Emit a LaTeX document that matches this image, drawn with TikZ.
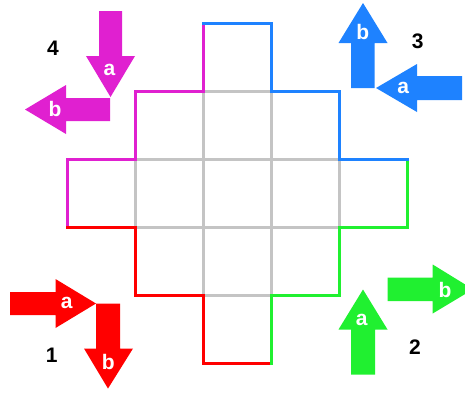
\documentclass[tikz,border=0pt]{standalone}
\usepackage{fontspec}
\setmainfont{Liberation Sans}
\definecolor{cmag}{HTML}{E020D0}
\definecolor{cblue}{HTML}{1E82FF}
\definecolor{cgreen}{HTML}{20F030}
\definecolor{cred}{HTML}{FF0000}
\definecolor{cgray}{HTML}{C4C4C4}
\begin{document}
\begin{tikzpicture}[x=1pt,y=-1pt,
  lbl/.style={font=\fontsize{21}{24}\selectfont\bfseries, text=white, inner sep=0pt},
  num/.style={font=\fontsize{21}{24}\selectfont\bfseries, text=black, inner sep=0pt},
  gridline/.style={draw=cgray, line width=3pt},
  rim/.style={line width=3pt, line cap=rect, line join=miter}]
\useasboundingbox (0,0) rectangle (465,392);
% inner grid
\draw[gridline] (203,91) -- (203,295) (271,91) -- (271,295)
  (135,159) -- (135,227) (339,159) -- (339,227)
  (203,91) -- (271,91) (135,159) -- (339,159)
  (135,227) -- (339,227) (203,295) -- (271,295);
% outline
\draw[rim, draw=cmag] (203,23) -- (203,91) -- (135,91) -- (135,159) -- (67,159) -- (67,227);
\draw[rim, draw=cred] (67,227) -- (135,227) -- (135,295) -- (203,295) -- (203,363) -- (271,363);
\draw[rim, draw=cgreen] (271,363) -- (271,295) -- (339,295) -- (339,227) -- (407,227) -- (407,159);
\draw[rim, draw=cblue] (407,159) -- (339,159) -- (339,91) -- (271,91) -- (271,23) -- (203,23);
% arrows 4 (magenta)
\fill[cmag] (99,11) -- (122,11) -- (122,56) -- (135,56) -- (110.5,97) -- (86,56) -- (99,56) -- cycle;
\fill[cmag] (110,98) -- (110,121) -- (66,121) -- (66,134) -- (25,109.5) -- (66,85) -- (66,98) -- cycle;
\node[lbl] (a4) at (109.5,70) {a};
\node[lbl] (b4) at (55,108.5) {b};
\node[num] (n4) at (53,48) {4};
% arrows 3 (blue)
\fill[cblue] (351,88) -- (374.5,88) -- (374.5,43) -- (387.5,43) -- (363,3) -- (338.5,43) -- (351,43) -- cycle;
\fill[cblue] (462,76) -- (462,100) -- (417,100) -- (417,112) -- (376,88) -- (417,64) -- (417,76) -- cycle;
\node[lbl] (b3) at (362.7,31.5) {b};
\node[lbl] (a3) at (403.3,88.3) {a};
\node[num] (n3) at (417.7,41.7) {3};
% arrows 1 (red)
\fill[cred] (10,292) -- (55.5,292) -- (55.5,279) -- (96,303.5) -- (55.5,328) -- (55.5,315) -- (10,315) -- cycle;
\fill[cred] (96,303.5) -- (120,303.5) -- (120,348.5) -- (133,348.5) -- (108,388.5) -- (84,348.5) -- (96,348.5) -- cycle;
\node[lbl] (a1) at (66.7,303.3) {a};
\node[lbl] (b1) at (108.3,361.5) {b};
\node[num] (n1) at (51.7,355) {1};
% arrows 2 (green)
\fill[cgreen] (351,374.5) -- (375,374.5) -- (375,329.5) -- (387.5,329.5) -- (363,289.5) -- (338.5,329.5) -- (351,329.5) -- cycle;
\fill[cgreen] (387.5,277.5) -- (432.7,277.5) -- (432.7,264.5) -- (473,289.3) -- (432.7,313.5) -- (432.7,301) -- (387.5,301) -- cycle;
\node[lbl] (a2) at (361.7,320) {a};
\node[lbl] (b2) at (445,289.5) {b};
\node[num] (n2) at (415,346.7) {2};
\end{tikzpicture}
\end{document}
